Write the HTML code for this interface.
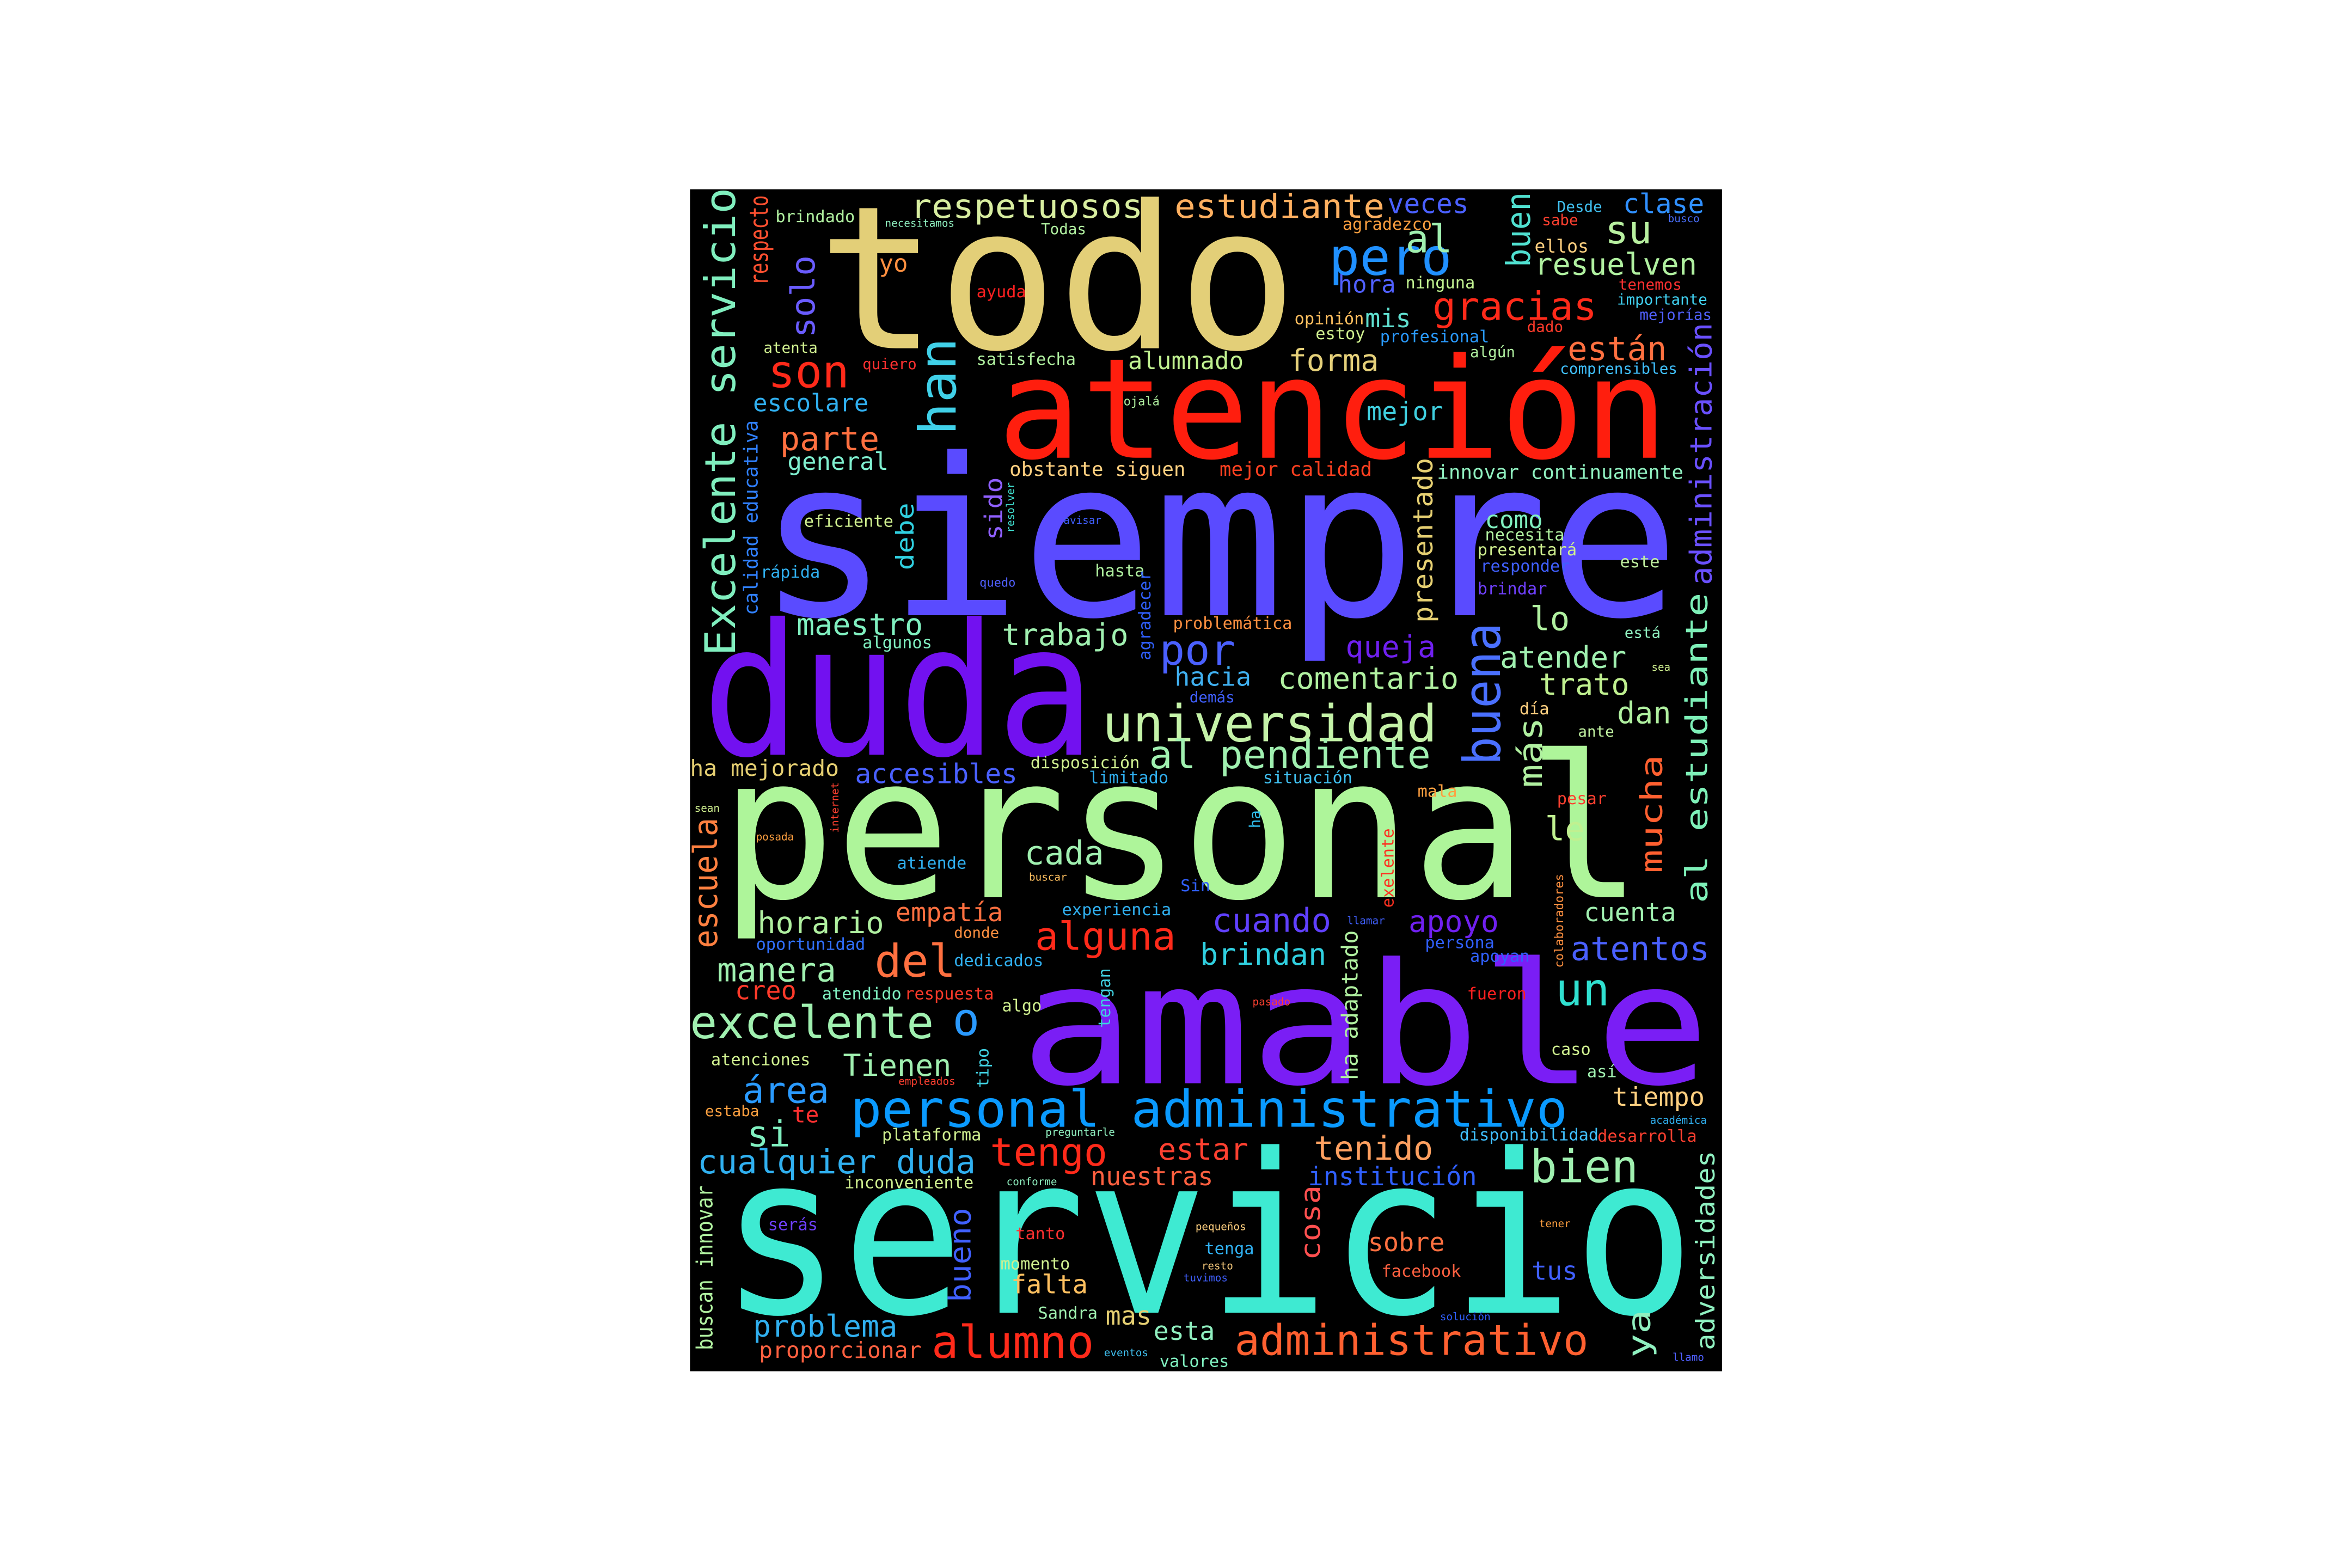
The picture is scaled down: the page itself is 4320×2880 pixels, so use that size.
<!DOCTYPE html>
<html>
<head>
<meta charset="utf-8">
<style>
html,body{margin:0;padding:0;background:#fff;width:4320px;height:2880px;overflow:hidden;}
svg{display:block;}
text{font-family:"DejaVu Sans Mono","Liberation Mono",monospace;}
</style>
</head>
<body>
<svg id="cloud" width="4320" height="2880" viewBox="0 0 1568 1045" xmlns="http://www.w3.org/2000/svg">
<rect x="460" y="126" width="688" height="788" fill="#000"/>
<g id="words"></g>
</svg>
<script>
// [text, x, y(baseline), size, color, textLength(0=auto)]
const hWords = [
["todo",545,232,133,"#e3cf78",320],
["siempre",505,410,146,"#5a4bff",615],
["atención",665,305,93,"#ff1e0e",447],
["duda",468,503,122,"#7211f0",262],
["personal",480,598,132,"#aef59a",615],
["amable",680,722,112,"#7a1ef5",460],
["servicio",480,875,148,"#3eead2",650],
["universidad",735,494,34,"#c4f2a8",223],
["personal administrativo",567,751,34,"#0a9aff",478],
["respetuosos",607,145,22,"#d8eea0",155],
["estudiante",783,145,22,"#ffb060",140],
["veces",925,142,18,"#4a60ff",0],
["clase",1082,142,18,"#3090ff",0],
["brindado",517,148,11,"#b0f0a0",0],
["necesitamos",590,151,7,"#90f0c0",0],
["Todas",694,156,10,"#b0f0a0",0],
["agradezco",895,153,11,"#ffa040",0],
["Desde",1038,141,10,"#40c0f0",0],
["sabe",1028,150,10,"#ff4030",0],
["busco",1112,148,7,"#4a70ff",0],
["ellos",1023,168,12,"#ffd080",0],
["su",1070,162,26,"#b8f0a0",0],
["pero",886,183,34,"#2090ff",0],
["al",937,168,26,"#a0f0b0",0],
["resuelven",1023,183,20,"#b0f0a0",0],
["yo",586,181,16,"#ff9040",0],
["hora",892,195,16,"#5060ff",0],
["ninguna",937,192,11,"#c0f090",0],
["tenemos",1079,193,10,"#ff3030",0],
["importante",1078,203,10,"#40d0f0",0],
["mejorías",1093,213,10,"#5060ff",0],
["ayuda",651,198,11,"#ff2020",0],
["gracias",955,213,26,"#ff2a1a",0],
["mis",910,218,17,"#60e0d0",0],
["opinión",863,216,11,"#ffc060",0],
["estoy",877,226,11,"#d0f090",0],
["profesional",920,228,11,"#2a9aff",0],
["dado",1018,221,10,"#ff3a2a",0],
["atenta",509,235,10,"#d0f090",0],
["algún",980,238,10,"#b0f0a0",0],
["están",1045,240,22,"#ff7040",0],
["comprensibles",1040,249,10,"#40c0ff",0],
["quiero",575,246,10,"#ff3030",0],
["satisfecha",651,243,11,"#b0f0a0",0],
["son",512,258,30,"#ff2a1a",0],
["alumnado",752,246,16,"#c0f090",0],
["forma",859,247,20,"#e5d07a",0],
["escolare",502,274,16,"#30b0f0",0],
["ojalá",749,270,8,"#b0f0a0",0],
["mejor",911,280,17,"#40d0e0",0],
["parte",520,300,22,"#ff7040",0],
["general",525,313,16,"#80f0d0",0],
["obstante siguen",673,317,13,"#ffd080",0],
["mejor calidad",813,317,13,"#ff4020",0],
["innovar continuamente",958,319,13,"#90f0c0",0],
["eficiente",536,351,11,"#d0f090",0],
["avisar",709,349,7,"#4060ff",0],
["como",990,352,16,"#80f0c0",0],
["necesita",990,360,11,"#b0f0a0",0],
["presentará",985,370,11,"#d0f090",0],
["responder",987,381,11,"#4060ff",0],
["rápida",507,385,11,"#30b0f0",0],
["quedo",653,391,8,"#5060ff",0],
["hasta",730,384,11,"#b0f0a0",0],
["este",1080,378,11,"#c0f0a0",0],
["brindar",985,396,11,"#7040ff",0],
["lo",1020,420,22,"#b0f0a0",0],
["maestro",531,423,20,"#80f0c0",0],
["algunos",575,432,11,"#80f0c0",0],
["trabajo",668,430,20,"#a0f0b0",0],
["problemática",782,419,11,"#ff9040",0],
["queja",897,438,20,"#7020f0",0],
["por",773,443,28,"#4a60ff",0],
["está",1083,425,10,"#90f0c0",0],
["atender",1000,445,20,"#a0f0b0",0],
["sea",1101,447,7,"#d0f090",0],
["hacia",783,457,17,"#40b0f0",0],
["comentario",852,459,20,"#b0f0a0",0],
["trato",1026,463,20,"#c0f090",0],
["demás",793,468,10,"#4060ff",0],
["día",1013,476,11,"#ffd080",0],
["dan",1078,482,20,"#b0f0a0",0],
["ante",1052,491,10,"#c0f0a0",0],
["ha mejorado",460,517,15,"#e5cf72",0],
["accesibles",570,522,18,"#4a60ff",0],
["disposición",687,512,11,"#d0f090",0],
["limitado",726,522,11,"#30b0f0",0],
["al pendiente",766,512,26,"#a0f0b0",0],
["situación",842,522,11,"#40c0f0",0],
["mala",945,531,11,"#ffa040",0],
["pesar",1038,536,11,"#ff4030",0],
["le",1030,560,22,"#c0f090",0],
["sean",463,541,7,"#d0f090",0],
["posada",504,560,7,"#ffa040",0],
["cada",683,576,22,"#a0f0b0",0],
["atiende",598,579,11,"#30b0f0",0],
["buscar",686,587,7,"#ffc060",0],
["Sin",787,594,11,"#3060ff",0],
["llamar",898,616,7,"#4060ff",0],
["experiencia",708,610,11,"#30b0f0",0],
["cuenta",1056,614,17,"#a0f0b0",0],
["horario",505,622,20,"#b0f0a0",0],
["empatía",597,614,17,"#ff7040",0],
["cuando",808,621,22,"#6040ff",0],
["apoyo",939,621,20,"#7020f0",0],
["donde",636,625,10,"#ff9040",0],
["persona",950,632,11,"#3060ff",0],
["oportunidad",504,633,11,"#3070ff",0],
["alguna",690,633,26,"#ff2a1a",0],
["atentos",1047,640,22,"#4a60ff",0],
["del",583,651,30,"#ff7040",0],
["dedicados",636,644,11,"#30b0f0",0],
["apoyan",980,641,11,"#3060ff",0],
["brindan",800,643,20,"#30d0e0",0],
["manera",478,654,22,"#a0f0b0",0],
["un",1037,670,30,"#30e0d0",0],
["creo",490,666,17,"#ff3a2a",0],
["atendido",548,666,11,"#80f0c0",0],
["respuesta",603,666,11,"#ff3a2a",0],
["fueron",978,666,11,"#ff2020",0],
["pasado",835,670,7,"#ff4030",0],
["algo",668,674,11,"#d0f090",0],
["excelente",460,692,30,"#a0f0b0",0],
["o",635,690,30,"#2a9aff",0],
["caso",1034,703,11,"#d0f090",0],
["atenciones",474,710,11,"#d0f090",0],
["Tienen",562,717,20,"#a0f0b0",0],
["así",1058,718,11,"#a0f0b0",0],
["empleados",599,723,7,"#ff4030",0],
["área",495,735,24,"#2a9aff",0],
["tiempo",1075,737,17,"#ffd080",0],
["estaba",470,744,10,"#ffa040",0],
["te",528,748,15,"#ff3030",0],
["académica",1100,749,7,"#30b0f0",0],
["si",498,764,24,"#80f0c0",0],
["preguntarle",697,757,7,"#90f0c0",0],
["plataforma",588,760,11,"#d0f090",0],
["disponibilidad",973,760,11,"#40c0ff",0],
["desarrolla",1065,761,11,"#ff4030",0],
["tenido",876,773,22,"#ffa060",0],
["estar",772,773,20,"#ff4030",0],
["tengo",660,777,26,"#ff2a1a",0],
["cualquier duda",465,782,22,"#30b0f0",0],
["bien",1020,788,30,"#a0f0b0",0],
["institución",872,790,17,"#3060ff",0],
["nuestras",727,790,17,"#ff6040",0],
["inconveniente",563,792,11,"#d0f090",0],
["conforme",671,790,7,"#90f0c0",0],
["serás",512,820,11,"#7040ff",0],
["tanto",677,826,11,"#ff3030",0],
["pequeños",797,820,7,"#ffd080",0],
["tener",1026,818,7,"#ffa040",0],
["sobre",912,834,17,"#ff7040",0],
["tenga",803,836,11,"#30b0f0",0],
["resto",801,846,7,"#ffd080",0],
["momento",667,846,11,"#d0f090",0],
["tuvimos",789,854,7,"#4060ff",0],
["tus",1021,853,17,"#4060ff",0],
["facebook",921,851,11,"#ff6040",0],
["falta",674,862,17,"#ffc060",0],
["Sandra",692,879,11,"#a0f0b0",0],
["solución",960,880,7,"#3060ff",0],
["mas",737,883,17,"#e5cf72",0],
["problema",502,891,20,"#30b0f0",0],
["esta",769,893,17,"#90f0c0",0],
["alumno",621,905,30,"#ff2a1a",0],
["administrativo",823,903,28,"#ff6030",0],
["proporcionar",506,905,15,"#ff6040",0],
["eventos",736,904,7,"#40c0f0",0],
["valores",773,911,11,"#80f0c0",0],
["llamo",1115,907,7,"#5060ff",0]
];
// vertical words: [text, baselineX, startY(bottom), size, color, length(0=auto)]
const vWords = [
["Excelente servicio",490,437,28,"#80eebe",312],
["al estudiante",1138,602,20,"#7ef0b8",207],
["administración",1141,390,20,"#6a50ff",175],
["adversidades",1143,900,17,"#8ff0c0",133],
["buena",1000,510,34,"#4a70ff",95],
["han",637,290,34,"#40d0e8",65],
["solo",543,225,22,"#6a5cff",55],
["respecto",512,190,17,"#ff5030",60],
["mucha",1108,582,20,"#ff6030",79],
["más",1028,525,22,"#b0f0a0",47],
["escuela",478,632,22,"#ff8040",87],
["buen",1020,178,22,"#50e0d0",50],
["presentado",955,415,18,"#e5cf72",110],
["sido",668,360,16,"#9060ff",42],
["debe",609,380,16,"#30d0e0",45],
["calidad educativa",505,410,13,"#3080ff",130],
["bueno",647,868,20,"#4060ff",63],
["cosa",880,840,18,"#ff5050",50],
["ya",1100,905,21,"#90f0c0",32],
["buscan innovar",475,900,15,"#b0f0a0",110],
["ha adaptado",905,720,15,"#b0f0a0",100],
["tengan",740,685,11,"#40d0e0",0],
["tipo",659,725,11,"#40d0e0",0],
["agradecer",767,440,11,"#3060ff",0],
["exelente",929,605,11,"#ff3020",0],
["colaboradores",1042,645,8,"#ff9040",0],
["internet",559,555,7,"#ff4030",0],
["resolver",676,355,7,"#40e0d0",0],
["ha",840,552,10,"#30c0f0",0]
];
const g = document.getElementById('words');
const NS = 'http://www.w3.org/2000/svg';
function slug(s){return s.toLowerCase().normalize('NFD').replace(/[\u0300-\u036f]/g,'').replace(/[^a-z0-9]+/g,'-');}
hWords.forEach(w => {
  const t = document.createElementNS(NS,'text');
  t.setAttribute('x', w[1]);
  t.setAttribute('y', w[2]);
  t.setAttribute('font-size', w[3]);
  t.setAttribute('fill', w[4]);
  if (w[5]) { t.setAttribute('textLength', w[5]); t.setAttribute('lengthAdjust','spacingAndGlyphs'); }
  t.textContent = w[0];
  
  
  g.appendChild(t);
});
vWords.forEach(w => {
  const t = document.createElementNS(NS,'text');
  t.setAttribute('transform', 'translate(' + w[1] + ',' + w[2] + ') rotate(-90)');
  t.setAttribute('font-size', w[3]);
  t.setAttribute('fill', w[4]);
  if (w[5]) { t.setAttribute('textLength', w[5]); t.setAttribute('lengthAdjust','spacingAndGlyphs'); }
  t.textContent = w[0];
  
  
  g.appendChild(t);
});
</script>
</body>
</html>
